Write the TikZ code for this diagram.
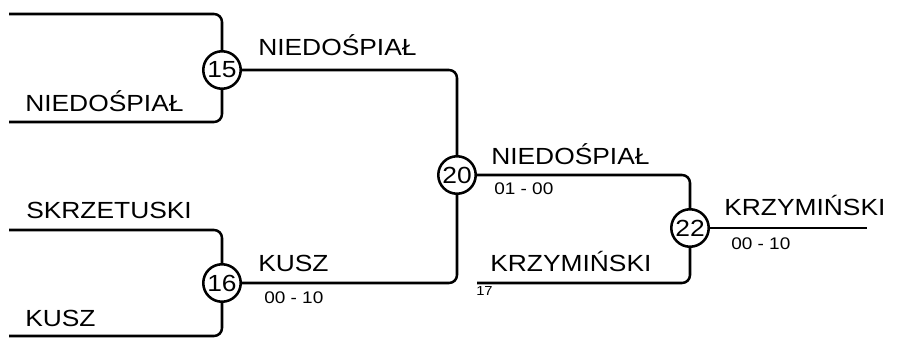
\documentclass[tikz,border=0pt]{standalone}
\usepackage{fontspec}
\setmainfont[FakeStretch=1.13]{Liberation Sans}

\begin{document}
\begin{tikzpicture}[x=0.75pt, y=-0.75pt,
    wire/.style={line width=1.9pt, rounded corners=6pt},
    game/.style={circle, draw, line width=1.9pt, inner sep=0pt, minimum size=28.1pt, font=\fontsize{17.5}{20}\selectfont},
    player/.style={anchor=base west, inner sep=0pt, font=\fontsize{17.5}{20}\selectfont},
    score/.style={anchor=base west, inner sep=0pt, font=\fontsize{12.6}{15}\selectfont}]
          \useasboundingbox (0,0) rectangle (906,338);
          \coordinate (a1) at (9,14);
          \coordinate (a2) at (9,122);
          \coordinate (a3) at (9,230);
          \coordinate (a4) at (9,336);
          \coordinate (a17) at (477,283);
          \coordinate (w) at (867,228);
          \foreach \n/\x/\y in {15/222/70, 16/222/283, 20/457/175, 22/690/228}
          {
          \node[game] (m\n) at (\x,\y) {\n};
          }
          \draw[wire] (a1) -| (m15.north);
          \draw[wire] (a2) -| (m15.south);
          \draw[wire] (a3) -| (m16.north);
          \draw[wire] (a4) -| (m16.south);
          \draw[wire] (m15.east) -| (m20.north);
          \draw[wire] (m16.east) -| (m20.south);
          \draw[wire] (m20.east) -| (m22.north);
          \draw[wire] (a17) -| (m22.south);
          \draw[wire] (m22.east) -- (w);
          \node[player] (p2) at (25,112) {NIEDOŚPIAŁ};
          \node[player] (p3) at (26,219) {SKRZETUSKI};
          \node[player] (p4) at (25,326) {KUSZ};
          \node[player] (w15) at (258,56) {NIEDOŚPIAŁ};
          \node[player] (w16) at (258,272) {KUSZ};
          \node[score] (s16) at (264,303) {00 - 10};
          \node[player] (w20) at (491,165) {NIEDOŚPIAŁ};
          \node[score] (s20) at (494,195) {01 - 00};
          \node[player] (p17) at (490,272) {KRZYMIŃSKI};
          \node[score, font=\fontsize{9.8}{12}\selectfont] (n17) at (476,296) {17};
          \node[player] (w22) at (724,216) {KRZYMIŃSKI};
          \node[score] (s22) at (731,249) {00 - 10};
        \end{tikzpicture}
\end{document}
